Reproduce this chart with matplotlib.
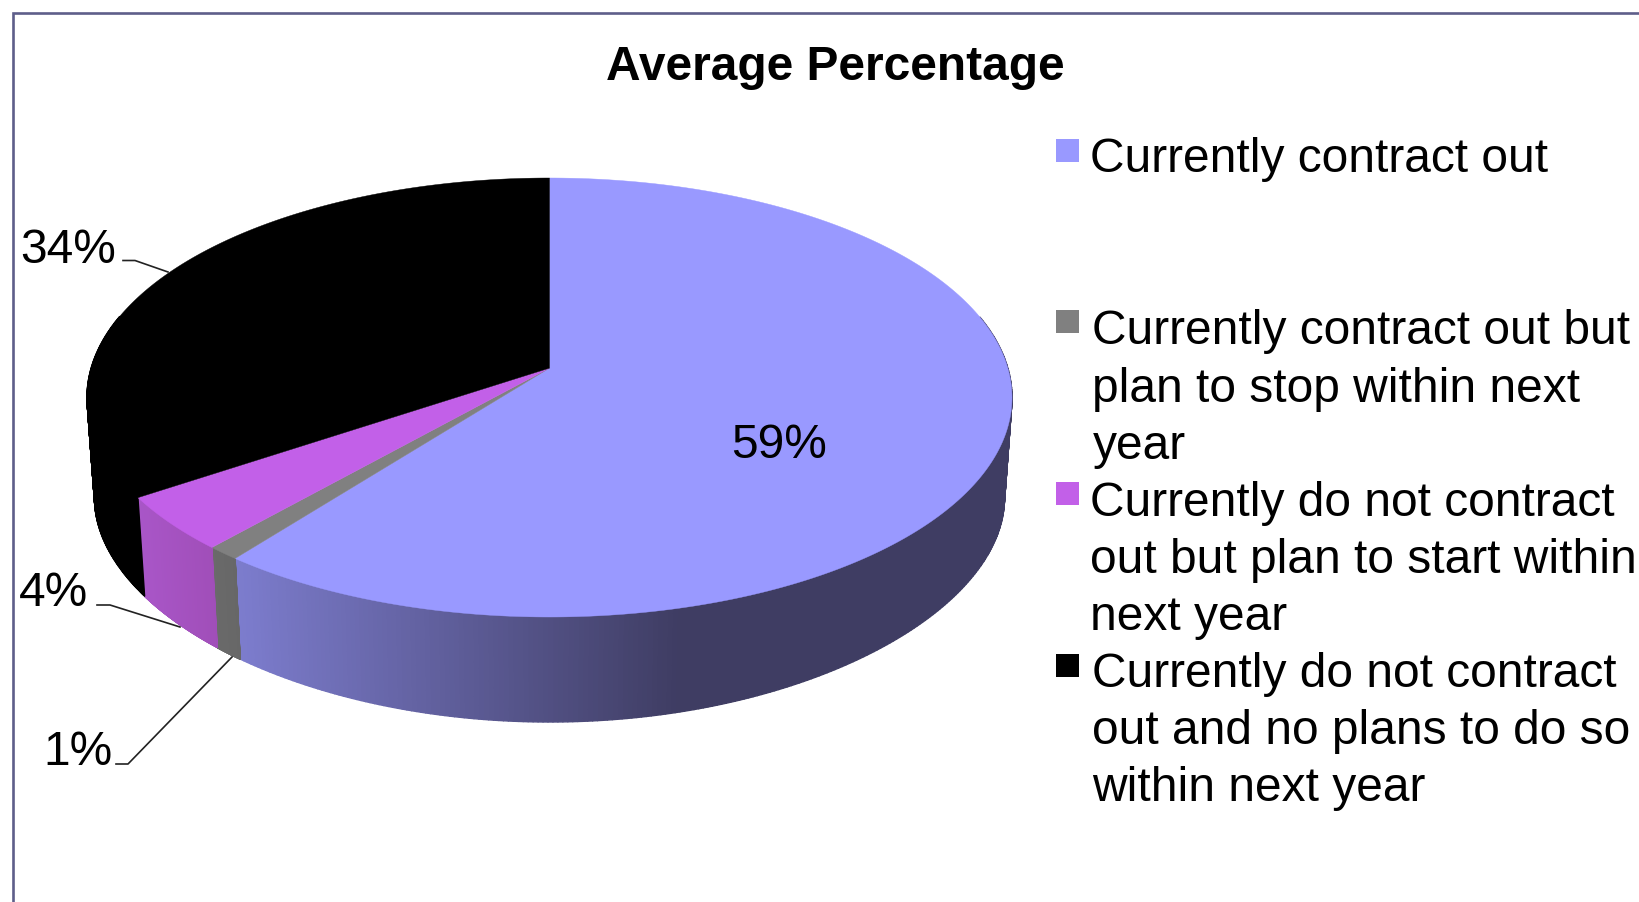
import numpy as np
import matplotlib
matplotlib.use("Agg")
import matplotlib.pyplot as plt
from matplotlib.collections import PolyCollection
from matplotlib.colors import to_rgb

title = "Average Percentage"
labels = ["Currently contract out",
          "Currently contract out but\nplan to stop within next\nyear",
          "Currently do not contract\nout but plan to start within\nnext year",
          "Currently do not contract\nout and no plans to do so\nwithin next year"]
# the labels show them rounded
values = [59.3, 1.0, 4.0, 33.7]
top_colors = ["#9999ff", "#808080", "#c260e8", "#000000"]
# wall shading, left colour and right colour
wall_colors = [("#7c7ccd", "#3f3d63"), ("#6a6a6a", "#666666"), ("#a956c8", "#a04eb8"), ("#000000", "#000000")]
wall_x = [(240, 680), (210, 245), (135, 215), (80, 150)]

plt.rcParams["font.family"] = ["Liberation Sans", "DejaVu Sans"]

W, H = 1640, 902
fig = plt.figure(figsize=(W / 100, H / 100), dpi=100)
ax = fig.add_axes([0, 0, 1, 1])
ax.set_xlim(0, W)
ax.set_ylim(H, 0)
ax.axis("off")

# frame, only left and top are inside the crop
ax.plot([13.5, 13.5, W], [H, 13, 13], color="#5e5e8a", lw=1.9, solid_joinstyle="miter")


def project(theta, cx, cy, a, b, kx, ky):
    # circle seen in perspective, theta clockwise from the back of the pie
    u, v = np.sin(theta), np.cos(theta)
    x = cx + a * np.sqrt(1 - kx ** 2) * u / (1 + kx * v)
    y = cy - b * (v + ky) / (1 + ky * v)
    return x, y


def top_edge(theta):
    return project(theta, 549.5, 397.5, 462.5, 219.5, 0.134, 0.134)


def bottom_edge(theta):
    return project(theta, 549.5, 512, 455, 210, 0.134, 0.2)


apex = (549.5, 397.5 - 219.5 * 0.134)

shares = np.array(values) / np.sum(values) * 2 * np.pi
ends = np.cumsum(shares)
starts = ends - shares

# side walls first, top faces go over them
for i in range(len(values)):
    t = np.linspace(starts[i], ends[i], 400)
    t = t[np.cos(t) < 0.25]  # back of the pie is hidden anyway
    xt, yt = top_edge(t)
    xb, yb = bottom_edge(t)
    quads = []
    cols = []
    c0, c1 = np.array(to_rgb(wall_colors[i][0])), np.array(to_rgb(wall_colors[i][1]))
    for j in range(len(t) - 1):
        quads.append([(xt[j], yt[j]), (xt[j + 1], yt[j + 1]), (xb[j + 1], yb[j + 1]), (xb[j], yb[j])])
        f = np.clip((xt[j] - wall_x[i][0]) / (wall_x[i][1] - wall_x[i][0]), 0, 1)
        cols.append(c0 + (c1 - c0) * f)
    # thick edges so the anti aliased seams do not show white
    ax.add_collection(PolyCollection(quads, facecolors=cols, edgecolors=cols, linewidths=1.0, zorder=2))

for i in range(len(values)):
    t = np.linspace(starts[i], ends[i], 300)
    xt, yt = top_edge(t)
    ax.fill(np.r_[apex[0], xt], np.r_[apex[1], yt], color=top_colors[i], lw=0.3, zorder=3)

# data labels
txt = dict(fontsize=34.5, color="black", va="baseline", zorder=5)
ax.text(731, 457.5, f"{round(values[0])}%", ha="left", **txt)
ax.text(20, 263, f"{round(values[3])}%", ha="left", **txt)
ax.text(18.5, 606.5, f"{round(values[2])}%", ha="left", **txt)
ax.text(43, 765, f"{round(values[1])}%", ha="left", **txt)

# leader lines
ax.plot([123, 135, 168], [260.5, 260.5, 272], color="#222222", lw=1.2, zorder=4)
ax.plot([97, 110, 180], [605, 605, 627], color="#222222", lw=1.2, zorder=4)
ax.plot([116, 128, 232], [764, 764, 657], color="#222222", lw=1.2, zorder=4)

ax.text(835, 80.5, title, fontsize=34.5, fontweight="bold", ha="center", va="baseline")

# legend
swatch_y = [138.5, 310, 482, 653.5]
text_x = [1090, 1092.5, 1090, 1092.5]
text_y = [172, 344.5, 515.5, 687]
for i in range(len(labels)):
    ax.fill([1056, 1079, 1079, 1056],
            [swatch_y[i], swatch_y[i], swatch_y[i] + 23, swatch_y[i] + 23],
            color=top_colors[i], lw=0)
    for n, line in enumerate(labels[i].split("\n")):
        ax.text(text_x[i], text_y[i] + n * 57.2, line, fontsize=34.5, ha="left", va="baseline")

fig.savefig("out.png", dpi=100, facecolor="white")
